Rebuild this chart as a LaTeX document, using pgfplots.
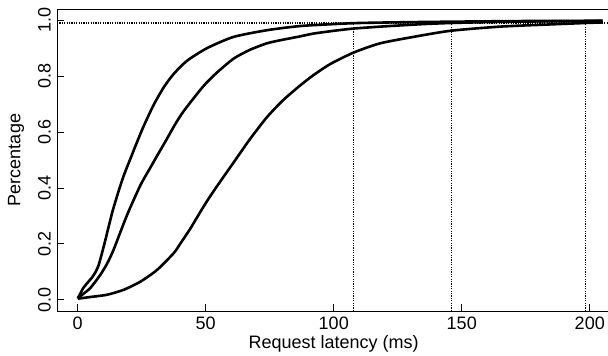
\documentclass[border=0pt]{standalone}
\usepackage{fontspec}
\setmainfont{Liberation Sans}
\usepackage{pgfplots}
\usepackage{pgfplotstable}
\pgfplotsset{compat=1.18}
\pgfplotstableread{
x y
0 0.005
1 0.022
2 0.04
3 0.052
4 0.063
5.6 0.08
7 0.1
8.2 0.125
9.5 0.168
10.8 0.214
13.4 0.31
16 0.39
18 0.445
20.8 0.51
23.2 0.565
25.8 0.622
29.7 0.698
33.6 0.76
37.5 0.808
42.7 0.855
50.5 0.90
60.8 0.94
73.8 0.964
86.8 0.979
100 0.986
110 0.99
130 0.993
150 0.995
175 0.997
205 0.998
}\curveA
\pgfplotstableread{
x y
0 0.005
2 0.02
4.9 0.042
8.8 0.089
11.5 0.13
14 0.179
19.3 0.304
24.5 0.41
28.2 0.47
31 0.515
34.8 0.575
38 0.627
41.4 0.675
47.8 0.75
50.5 0.778
54.3 0.812
60.8 0.862
67 0.893
73.8 0.917
79 0.928
86.8 0.942
92 0.952
100 0.962
107.7 0.97
120 0.978
135 0.986
146 0.99
165 0.994
185 0.996
205 0.997
}\curveB
\pgfplotstableread{
x y
0 0.004
4.9 0.01
11.4 0.018
18 0.036
24.5 0.065
31 0.107
37.5 0.167
40 0.2
44 0.255
47.8 0.313
50.5 0.353
54.3 0.405
60.8 0.49
67.3 0.575
73.8 0.652
80 0.712
86.8 0.766
92 0.803
98.6 0.843
107.7 0.884
118 0.917
131 0.94
145.5 0.962
165 0.977
185 0.985
198.4 0.99
205 0.992
}\curveC
\begin{document}
\fontsize{18}{21.6}\selectfont
\begin{tikzpicture}
\begin{axis}[
  at={(0,0)}, anchor=south west,
  scale only axis, width=559.9pt, height=302pt,
  xmin=-8.1, xmax=210.6, ymin=-0.04, ymax=1.04,
  axis line style={line width=0.9pt},
  xtick={0,50,100,150,200}, ytick={0,0.2,0.4,0.6,0.8,1.0},
  xtick pos=bottom, ytick pos=left, tick align=inside, major tick length=6.5pt,
  tick style={line width=0.9pt, black},
  /pgf/number format/assume math mode=true,
  yticklabel style={rotate=90, anchor=south, /pgf/number format/.cd, fixed, fixed zerofill, precision=1},
  xticklabel style={anchor=north},
  xlabel={Request latency (ms)}, ylabel={Percentage},
  xlabel style={at={(axis description cs:0.494,-0.109)}, anchor=center},
  ylabel style={at={(axis description cs:-0.0732,0.5)}, anchor=center},
]
\addplot[black, line width=1.1pt, dash pattern=on 1.2pt off 1.2pt] coordinates {(-8.1,0.99) (210.6,0.99)};
\addplot[black, line width=0.8pt, dash pattern=on 1.2pt off 1.2pt] coordinates {(107.7,-0.04) (107.7,0.99)};
\addplot[black, line width=0.8pt, dash pattern=on 1.2pt off 1.2pt] coordinates {(146.1,-0.04) (146.1,0.99)};
\addplot[black, line width=0.8pt, dash pattern=on 1.2pt off 1.2pt] coordinates {(198.4,-0.04) (198.4,0.99)};
\addplot[black, line width=2.6pt, line join=round, smooth, tension=0.4] table[x=x,y=y] {\curveA};
\addplot[black, line width=2.6pt, line join=round, smooth, tension=0.4] table[x=x,y=y] {\curveB};
\addplot[black, line width=2.6pt, line join=round, smooth, tension=0.4] table[x=x,y=y] {\curveC};
\end{axis}
\pgfresetboundingbox
\useasboundingbox (-57pt,-45pt) rectangle (551pt,311pt);
\end{tikzpicture}
\end{document}
